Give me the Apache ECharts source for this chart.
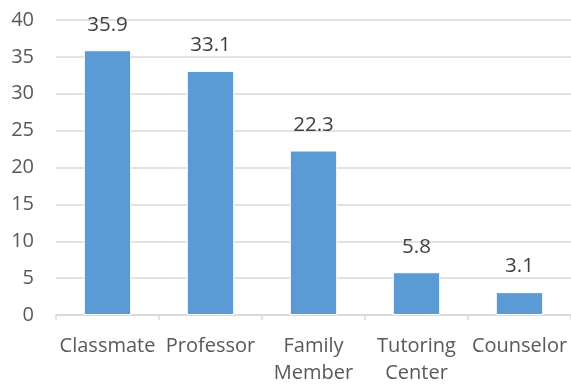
<!DOCTYPE html>
<html lang="en">
<head>
    <meta charset="UTF-8">
    <script type="text/javascript" src="https://cdn.jsdelivr.net/npm/echarts@6/dist/echarts.min.js"></script>
    <style>
        html, body { margin: 0; padding: 0; background: #fff; }
        #chart { width: 571px; height: 387px; }
    </style>
</head>
<body>
    <div id="chart"></div>
</body>
<script>
    // data
    var categories = ["Classmate", "Professor", "Family\nMember", "Tutoring\nCenter", "Counselor"];
    var values = [35.9, 33.1, 22.3, 5.8, 3.1];
    var yTicks = [0, 5, 10, 15, 20, 25, 30, 35, 40];

    var textColor = "#595959";
    var chart = echarts.init(document.getElementById("chart"));

    chart.setOption({
        animation: false,
        textStyle: { fontFamily: "Open Sans" },
        grid: { left: 56, right: 0, top: 20, bottom: 69 },
        xAxis: {
            type: "category",
            data: categories,
            axisLine: { lineStyle: { color: "#d9d9d9", width: 1.5 } },
            axisTick: { show: true, length: 5, lineStyle: { color: "#d9d9d9", width: 1.5 } },
            axisLabel: { color: textColor, fontSize: 20, margin: 18, lineHeight: 27, interval: 0 }
        },
        yAxis: {
            type: "value",
            min: yTicks[0],
            max: yTicks[yTicks.length - 1],
            interval: 5,
            axisLine: { show: false },
            axisTick: { show: false },
            splitLine: { lineStyle: { color: "#d9d9d9", width: 1.5 } },
            axisLabel: { color: textColor, fontSize: 20, margin: 22 }
        },
        series: [{
            type: "bar",
            data: values,
            barWidth: "46%",
            itemStyle: { color: "#5b9bd5", borderColor: "#ffffff", borderWidth: 1 },
            label: { show: true, position: "top", distance: 15, color: "#404040", fontSize: 20.5 }
        }]
    });
</script>
</html>
